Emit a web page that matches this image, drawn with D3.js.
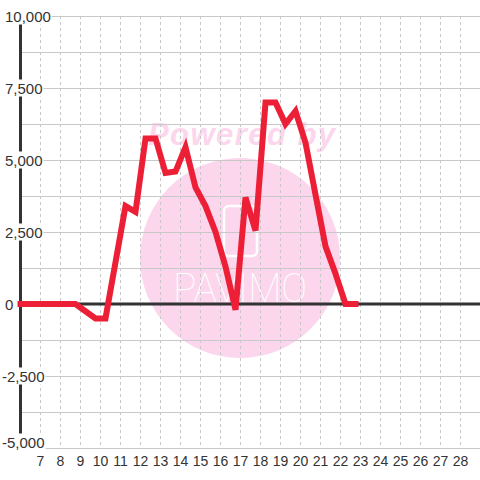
<!DOCTYPE html>
<html>
<head>
<meta charset="utf-8">
<script src="https://d3js.org/d3.v7.min.js"></script>
<style>
    body { margin: 0; background: #fff; }
    svg { display: block; font-family: "Liberation Sans", Arial, sans-serif; }
</style>
</head>
<body>
<div id="chart"></div>
<script>
    // half-hour readings, hour of day
    var hours = [6, 6.25, 6.75, 7.25, 7.75, 8.25, 8.75, 9.25, 9.75, 10.25, 10.75, 11.25, 11.75,
        12.25, 12.75, 13.25, 13.75, 14.25, 14.75, 15.25, 15.75, 16.25, 16.75, 17.25, 17.75,
        18.25, 18.75, 19.25, 19.75, 20.25, 20.75, 21.25, 21.75, 22.25, 22.75];
    var values = [0, 0, 0, 0, 0, 0, 0, -250, -500, -500, 1450, 3400, 3200,
        5750, 5750, 4550, 4600, 5450, 4050, 3400, 2500, 1300, -200, 3700, 2550,
        7000, 7000, 6250, 6700, 5600, 3800, 2000, 1050, 0, 0];

    var xTicks = d3.range(7, 29);
    var yTicks = [-5000, -2500, 0, 2500, 5000, 7500, 10000];
    var yGrid = d3.range(-5000, 10001, 1250);

    var width = 480, height = 480;

    var svg = d3.select("#chart").append("svg")
        .attr("width", width)
        .attr("height", height);

    var xScale = d3.scaleLinear().domain([6, 29]).range([20.5, 480.5]);
    var yScale = d3.scaleLinear().domain([-5000, 10000]).range([448, 16]);

    // watermark
    var wm = svg.append("g");
    wm.append("circle")
        .attr("cx", 240).attr("cy", 258).attr("r", 100)
        .attr("fill", "#fcd6ec");
    wm.append("text")
        .attr("x", 148).attr("y", 145)
        .attr("textLength", 187)
        .attr("font-size", 31)
        .attr("font-weight", "bold")
        .attr("font-style", "italic")
        .attr("fill", "#fcd6ec")
        .text("Powered by");
    wm.append("rect")
        .attr("x", 224).attr("y", 206).attr("width", 33).attr("height", 50)
        .attr("rx", 5)
        .attr("fill", "none")
        .attr("stroke", "#fff")
        .attr("stroke-width", 2.5);
    wm.append("text")
        .attr("x", 173).attr("y", 302)
        .attr("textLength", 134)
        .attr("lengthAdjust", "spacingAndGlyphs")
        .attr("font-family", "Roboto, sans-serif")
        .attr("font-size", 40)
        .attr("font-weight", 100)
        .attr("fill", "#fff")
        .text("PAVIMO");

    // grid
    svg.append("g").selectAll("line")
        .data(xTicks)
        .enter().append("line")
        .attr("x1", d => xScale(d)).attr("x2", d => xScale(d))
        .attr("y1", yScale(10000)).attr("y2", yScale(-5000))
        .attr("stroke", "#c8c8c8")
        .attr("stroke-dasharray", "3,3");

    svg.append("g").selectAll("line")
        .data(yGrid)
        .enter().append("line")
        .attr("x1", xScale(6)).attr("x2", width)
        .attr("y1", d => yScale(d) + 0.5).attr("y2", d => yScale(d) + 0.5)
        .attr("stroke", "#c8c8c8");

    // axes
    svg.append("line")
        .attr("x1", xScale(6)).attr("x2", xScale(6))
        .attr("y1", yScale(10000)).attr("y2", yScale(-5000))
        .attr("stroke", "#333").attr("stroke-width", 3);
    svg.append("line")
        .attr("x1", xScale(6)).attr("x2", width)
        .attr("y1", yScale(0)).attr("y2", yScale(0))
        .attr("stroke", "#333").attr("stroke-width", 3);

    // y labels with white boxes (bottom one nudged up)
    var fmt = d3.format(",");
    var yLab = svg.append("g").selectAll("g")
        .data(yTicks)
        .enter().append("g");
    yLab.append("text")
        .attr("x", d => d < 0 ? 2 : 5)
        .attr("y", d => yScale(d) + (d === -5000 ? -0.5 : 5.5))
        .attr("font-size", 15)
        .attr("fill", "#333")
        .text(d => fmt(d).replace("\u2212", "-"));
    yLab.each(function () {
        var g = d3.select(this);
        var b = g.select("text").node().getBBox();
        g.insert("rect", "text")
            .attr("x", b.x - 1).attr("y", b.y)
            .attr("width", b.width + 2).attr("height", b.height)
            .attr("fill", "#fff");
    });

    // x labels
    svg.append("g").selectAll("text")
        .data(xTicks)
        .enter().append("text")
        .attr("x", d => xScale(d))
        .attr("y", 466)
        .attr("text-anchor", "middle")
        .attr("font-size", 14)
        .attr("fill", "#333")
        .text(d => d);

    // series
    var line = d3.line()
        .x((d, i) => xScale(hours[i]))
        .y(d => yScale(d));

    svg.append("path")
        .datum(values)
        .attr("d", line)
        .attr("fill", "none")
        .attr("stroke", "#ed1f36")
        .attr("stroke-width", 6)
        .attr("stroke-linecap", "square")
        .attr("stroke-linejoin", "miter");
</script>
</body>
</html>
